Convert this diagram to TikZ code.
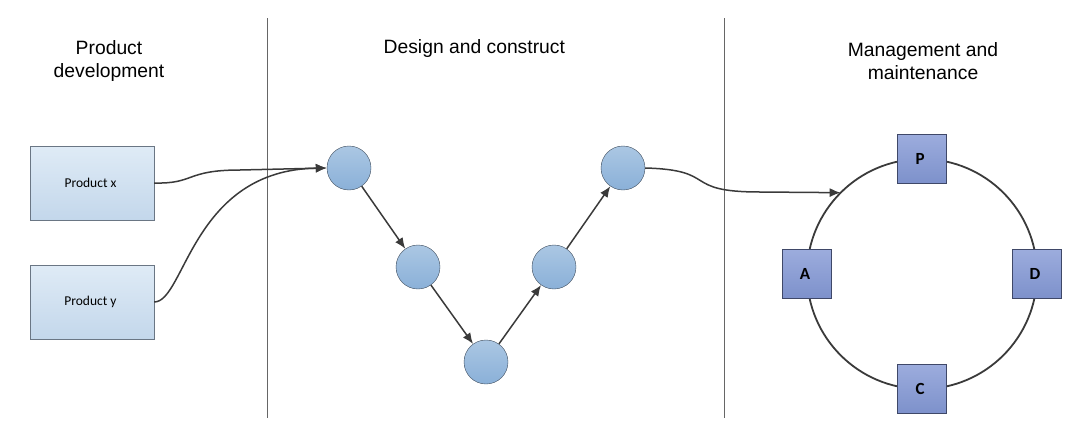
\documentclass[tikz,border=0pt]{standalone}
\usepackage{fontspec}
\setmainfont{Liberation Sans}
\newfontfamily\calibri{Carlito}
\usepackage{tikz}
\usetikzlibrary{positioning,arrows.meta}

\definecolor{boxtop}{HTML}{DFEBF6}
\definecolor{boxbot}{HTML}{C3D7EB}
\definecolor{boxline}{HTML}{6A7684}
\definecolor{stagetop}{HTML}{ABC7E3}
\definecolor{stagebot}{HTML}{8AB0D8}
\definecolor{stageline}{HTML}{3E4C5C}
\definecolor{phasetop}{HTML}{9CACDD}
\definecolor{phasebot}{HTML}{7D91CB}
\definecolor{phaseline}{HTML}{3F4868}
\definecolor{linegray}{HTML}{3A3A3A}

\begin{document}
\begin{tikzpicture}[x = 1pt, y = -1pt,
    every node/.style = { align = center },
    title/.style = { font = \fontsize{19.3}{23}\selectfont },
    product/.style = { draw = boxline, top color = boxtop, bottom color = boxbot,
      minimum width = 124pt, minimum height = 74pt,
      font = \calibri\fontsize{13.5}{15}\selectfont },
    stage/.style = { draw = stageline, shape = circle, minimum size = 44pt,
      top color = stagetop, bottom color = stagebot },
    phase/.style = { draw = phaseline, minimum size = 49pt,
      top color = phasetop, bottom color = phasebot,
      font = \calibri\bfseries\fontsize{17}{19}\selectfont },
    flow/.style = { draw = linegray, line width = 1.5pt,
      -{Latex[length = 11pt, width = 9pt]} }
  ]
  \useasboundingbox (0,0) rectangle (1074,434);

  % column titles
  \node [title] (tprod) at (109,61) { Product \\ development };
  \node [title] (tdesign) at (477,49) { Design and construct };
  \node [title] (tmanage) at (923,61) { Management and \\ maintenance };

  % separators
  \draw [gray!80!black, line width = 0.8pt] (267,18) -- (267,418);
  \draw [gray!80!black, line width = 0.8pt] (724,18) -- (724,418);

  % products
  \node [product] (px) at (92,183) { Product x };
  \node [product] (py) at (92,302) { Product y };

  % the V
  \node [stage] (s1) at (349,168) {};
  \node [stage] (s2) at (418,267) {};
  \node [stage] (s3) at (486,362) {};
  \node [stage] (s4) at (554,267) {};
  \node [stage] (s5) at (623,168) {};

  % PDCA ring
  \node [draw = linegray, line width = 1.8pt, shape = circle,
    minimum size = 230pt, outer sep = 0pt] (ring) at (922,274) {};
  \node [phase] (p) at (ring.north) { P };
  \node [phase] (d) at (ring.east) { D };
  \node [phase] (c) at (ring.south) { C };
  \node [phase] (a) at (ring.west) { A };

  % connectors
  \draw [flow] (px.east) .. controls (195,184) and (185,170) .. (240,170)
    -- (s1.west);
  \draw [flow] (py.east) .. controls (185,302) and (192,170) .. (s1.west);
  \foreach \from/\to in {s1/s2, s2/s3, s3/s4, s4/s5}
    \draw [flow] (\from) -- (\to);
  \draw [flow] (s5.east) .. controls (720,170) and (680,192) .. (760,192)
    -- (ring.135);
\end{tikzpicture}
\end{document}
